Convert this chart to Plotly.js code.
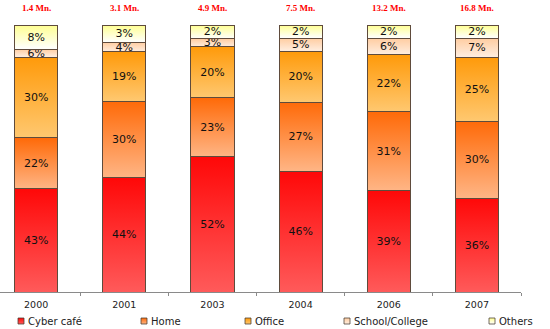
<!DOCTYPE html>
<html>
<head>
<meta charset="utf-8">
<script src="https://cdn.plot.ly/plotly-3.0.1.min.js"></script>
<style>
  html, body { margin: 0; padding: 0; background: #fff; }
  #chart { width: 550px; height: 329px; }
</style>
</head>
<body>
<div id="chart"></div>
<script>
// Categories
const years = ['2000', '2001', '2003', '2004', '2006', '2007'];
// Internet user base shown above each column
const userBase = ['1.4 Mn.', '3.1 Mn.', '4.9 Mn.', '7.5 Mn.', '13.2 Mn.', '16.8 Mn.'];

// Segment shares as drawn (bar heights, % of column)
const cyberCafe = [38.6, 42.7, 50.6, 45.3, 38.1, 35.2];
const home      = [19.1, 28.8, 22.1, 25.8, 29.5, 28.8];
const office    = [30.3, 18.4, 19.1, 19.1, 21.3, 24.0];
const school    = [3.0, 3.7, 3.0, 4.9, 6.3, 7.1];
const others    = [9.0, 6.4, 5.2, 4.9, 4.9, 4.9];

// Printed labels inside the segments
const cyberLabels  = ['43%', '44%', '52%', '46%', '39%', '36%'];
const homeLabels   = ['22%', '30%', '23%', '27%', '31%', '30%'];
const officeLabels = ['30%', '19%', '20%', '20%', '22%', '25%'];
const schoolLabels = ['6%', '4%', '3%', '5%', '6%', '7%'];
const otherLabels  = ['8%', '3%', '2%', '2%', '2%', '2%'];

const seriesNames = ['Cyber café', 'Home', 'Office', 'School/College', 'Others'];
const seriesVals = [cyberCafe, home, office, school, others];
const seriesLabels = [cyberLabels, homeLabels, officeLabels, schoolLabels, otherLabels];
const solidColors = ['#ff3030', '#ff9050', '#ffad3a', '#ffdcc0', '#ffffc8'];
const gradStops = [
  ['#ff0808', '#ff5a5a'],
  ['#ff6a08', '#ffb585'],
  ['#ff9a0a', '#ffc870'],
  ['#ffcca0', '#ffeee0'],
  ['#ffff90', '#ffffff']
];
// legend text start positions (px)
const legendTextX = [28, 151, 255, 354, 499];

const plotW = 521;
const legendIds = ['legend', 'legend2', 'legend3', 'legend4', 'legend5'];

const traces = seriesNames.map((name, i) => ({
  type: 'bar',
  name: name,
  x: years,
  y: seriesVals[i],
  text: seriesLabels[i],
  textposition: 'inside',
  insidetextanchor: 'middle',
  textangle: 0,
  constraintext: 'none',
  cliponaxis: false,
  insidetextfont: { family: 'DejaVu Sans, Verdana, sans-serif', size: 11, color: '#111' },
  marker: { color: solidColors[i], line: { color: 'rgb(95,75,60)', width: 1 } },
  width: 0.49,
  legend: legendIds[i],
  hoverinfo: 'skip'
}));

const layout = {
  width: 550,
  height: 329,
  margin: { l: 0, r: 29, t: 25, b: 37, autoexpand: false },
  paper_bgcolor: '#ffffff',
  plot_bgcolor: '#ffffff',
  barmode: 'stack',
  barnorm: 'percent',
  showlegend: true,
  xaxis: {
    type: 'category',
    range: [-0.41, 5.5],
    showline: true,
    linecolor: '#8a8a8a',
    linewidth: 1,
    ticks: 'outside',
    tickson: 'boundaries',
    ticklen: 3,
    tickcolor: '#8a8a8a',
    ticklabelstandoff: 4,
    showgrid: false,
    zeroline: false,
    tickfont: { family: 'DejaVu Sans, Verdana, sans-serif', size: 9.5, color: '#222' },
    fixedrange: true
  },
  yaxis: {
    range: [0, 100],
    visible: false,
    fixedrange: true
  },
  annotations: years.map((yr, i) => ({
    x: i,
    xref: 'x',
    y: (292 - 8.5) / 267,
    yref: 'paper',
    yanchor: 'middle',
    text: userBase[i],
    showarrow: false,
    font: { family: 'Liberation Serif, Times New Roman, serif', size: 9, color: '#ff0000', weight: 'bold' }
  }))
};

legendIds.forEach((id, i) => {
  layout[id] = {
    x: (legendTextX[i] - 40) / plotW,
    xanchor: 'left',
    y: (292 - 321) / 267,
    yanchor: 'middle',
    orientation: 'h',
    bgcolor: 'rgba(0,0,0,0)',
    borderwidth: 0,
    itemwidth: 30,
    font: { family: 'DejaVu Sans, Verdana, sans-serif', size: 10, color: '#222' }
  };
});

const gd = document.getElementById('chart');
Plotly.newPlot(gd, traces, layout, { staticPlot: true, displayModeBar: false }).then(() => {
  const svg = gd.querySelector('svg.main-svg');
  const NS = 'http://www.w3.org/2000/svg';
  let defs = svg.querySelector('defs');
  if (!defs) { defs = document.createElementNS(NS, 'defs'); svg.insertBefore(defs, svg.firstChild); }
  gradStops.forEach((st, i) => {
    const lg = document.createElementNS(NS, 'linearGradient');
    lg.setAttribute('id', 'segGrad' + i);
    lg.setAttribute('x1', '0'); lg.setAttribute('y1', '0');
    lg.setAttribute('x2', '0'); lg.setAttribute('y2', '1');
    const s1 = document.createElementNS(NS, 'stop');
    s1.setAttribute('offset', '0'); s1.setAttribute('stop-color', st[0]);
    const s2 = document.createElementNS(NS, 'stop');
    s2.setAttribute('offset', '1'); s2.setAttribute('stop-color', st[1]);
    lg.appendChild(s1); lg.appendChild(s2);
    defs.appendChild(lg);
  });
  const barTraces = gd.querySelectorAll('.barlayer .trace');
  barTraces.forEach((tg, i) => {
    let idx = i;
    try { idx = tg.__data__[0].trace.index; } catch (e) {}
    tg.querySelectorAll('.point path').forEach(p => { p.style.fill = 'url(#segGrad' + idx + ')'; });
  });
  const legTraces = gd.querySelectorAll('.legendpoints');
  legTraces.forEach((lp, i) => {
    let idx = i;
    try { idx = lp.parentNode.__data__[0].trace.index; } catch (e) {}
    lp.querySelectorAll('path').forEach(p => {
      p.style.fill = 'url(#segGrad' + idx + ')';
      p.style.stroke = 'rgb(70,60,50)';
      p.style.strokeWidth = '1.5px';
      p.setAttribute('transform', 'translate(33,0) scale(0.5)');
    });
  });
});
</script>
</body>
</html>
